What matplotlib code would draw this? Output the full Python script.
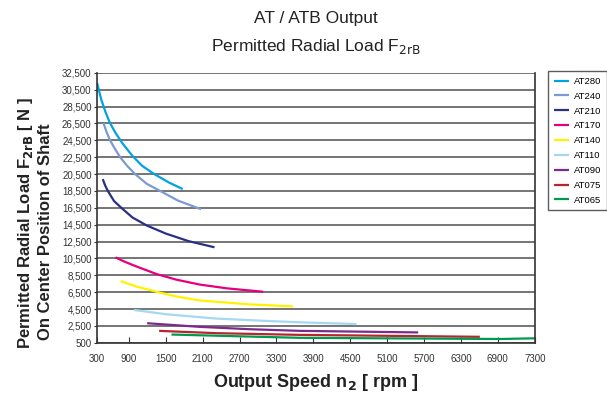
import matplotlib.pyplot as plt
import numpy as np

plt.rcParams['font.family'] = ['Liberation Sans', 'DejaVu Sans']

# curve data (rpm, N)
at280_x = [385, 413, 455, 520, 590, 682, 791, 953, 1116, 1306, 1549, 1777]
at280_y = [31290, 30450, 29265, 27880, 26600, 25400, 24200, 22700, 21480, 20530, 19510, 18720]
at240_x = [489, 540, 596, 670, 759, 870, 1002, 1190, 1409, 1700, 2076]
at240_y = [26540, 25450, 24500, 23550, 22500, 21500, 20500, 19350, 18500, 17350, 16330]
at210_x = [477, 515, 559, 660, 786, 960, 1193, 1500, 1871, 2293]
at210_y = [19900, 19150, 18500, 17300, 16450, 15350, 14400, 13450, 12550, 11820]
at170_x = [684, 820, 970, 1350, 1675, 2054, 2500, 3084]
at170_y = [10620, 10150, 9700, 8650, 7980, 7400, 6950, 6550]
at140_x = [770, 1025, 1377, 1700, 2054, 2867, 3572]
at140_y = [7800, 7170, 6500, 5950, 5520, 5050, 4815]
at110_x = [986, 1513, 2326, 3139, 3680, 4602]
at110_y = [4390, 3880, 3370, 3090, 2930, 2720]
at090_x = [1198, 2054, 2867, 3680, 5604]
at090_y = [2820, 2390, 2110, 1915, 1730]
at075_x = [1393, 2326, 3680, 6607]
at075_y = [1915, 1640, 1440, 1210]
at065_x = [1594, 2590, 3680, 6930, 7500]
at065_y = [1480, 1290, 1090, 950, 1030]

series = [
    ('AT280', at280_x, at280_y, '#00a3e0'),
    ('AT240', at240_x, at240_y, '#7b9bd2'),
    ('AT210', at210_x, at210_y, '#2b2f86'),
    ('AT170', at170_x, at170_y, '#e6007e'),
    ('AT140', at140_x, at140_y, '#fff200'),
    ('AT110', at110_x, at110_y, '#a5d8f3'),
    ('AT090', at090_x, at090_y, '#7d2a8e'),
    ('AT075', at075_x, at075_y, '#b7262e'),
    ('AT065', at065_x, at065_y, '#009a4e'),
]

x_ticks = [385, 900, 1500, 2100, 2700, 3300, 3900, 4500, 5100, 5700, 6300, 6900, 7500]
x_labels = ['300', '900', '1500', '2100', '2700', '3300', '3900', '4500',
            '5100', '5700', '6300', '6900', '7300']
y_ticks = list(range(500, 32501, 2000))

fig = plt.figure(figsize=(6.07, 4.0), dpi=100)
ax = fig.add_axes([0.160, 0.143, 0.721, 0.675])

for name, xs, ys, c in series:
    ax.plot(xs, ys, color=c, linewidth=1.6, label=name, solid_capstyle='butt',
            solid_joinstyle='round')

ax.set_xlim(385, 7500)
ax.set_ylim(500, 32500)
ax.set_xticks(x_ticks)
ax.set_xticklabels(x_labels)
ax.set_yticks(y_ticks)
ax.set_yticklabels([f'{v:,}' for v in y_ticks])
ax.yaxis.grid(True, color='#6a6a6a', linewidth=1.3)
ax.set_axisbelow(True)
ax.tick_params(axis='x', direction='in', length=4, labelsize=7, colors='#333333', pad=8)
ax.tick_params(axis='y', direction='out', length=2, labelsize=7, colors='#333333', pad=2)
for s in ['left', 'bottom', 'right']:
    ax.spines[s].set_color('#333333')
    ax.spines[s].set_linewidth(1.2)
ax.spines['top'].set_visible(False)

fig.text(0.52, 0.955, 'AT / ATB Output', ha='center', va='center', fontsize=12.5, color='#222222')
fig.text(0.52, 0.885, 'Permitted Radial Load F$_{\\mathrm{2rB}}$', ha='center', va='center',
         fontsize=12.5, color='#222222')

ax.set_xlabel('Output Speed n$_{\\mathbf{2}}$ [ rpm ]', fontsize=13, fontweight='bold',
              color='#222222', labelpad=6)
fig.text(0.042, 0.443, 'Permitted Radial Load F$_{\\mathbf{2rB}}$ [ N ]', rotation=90,
         ha='center', va='center', fontsize=12, fontweight='bold', color='#222222')
fig.text(0.075, 0.42, 'On Center Position of Shaft', rotation=90,
         ha='center', va='center', fontsize=12, fontweight='bold', color='#222222')

leg = ax.legend(loc='upper left', bbox_to_anchor=(0.903, 0.822), bbox_transform=fig.transFigure,
                fontsize=6.8, frameon=True, fancybox=False, handlelength=1.6, labelspacing=0.62,
                borderpad=0.6, handletextpad=0.5, borderaxespad=0)
leg.get_frame().set_edgecolor('#333333')
leg.get_frame().set_linewidth(1.0)

fig.savefig('out.png', dpi=100)
